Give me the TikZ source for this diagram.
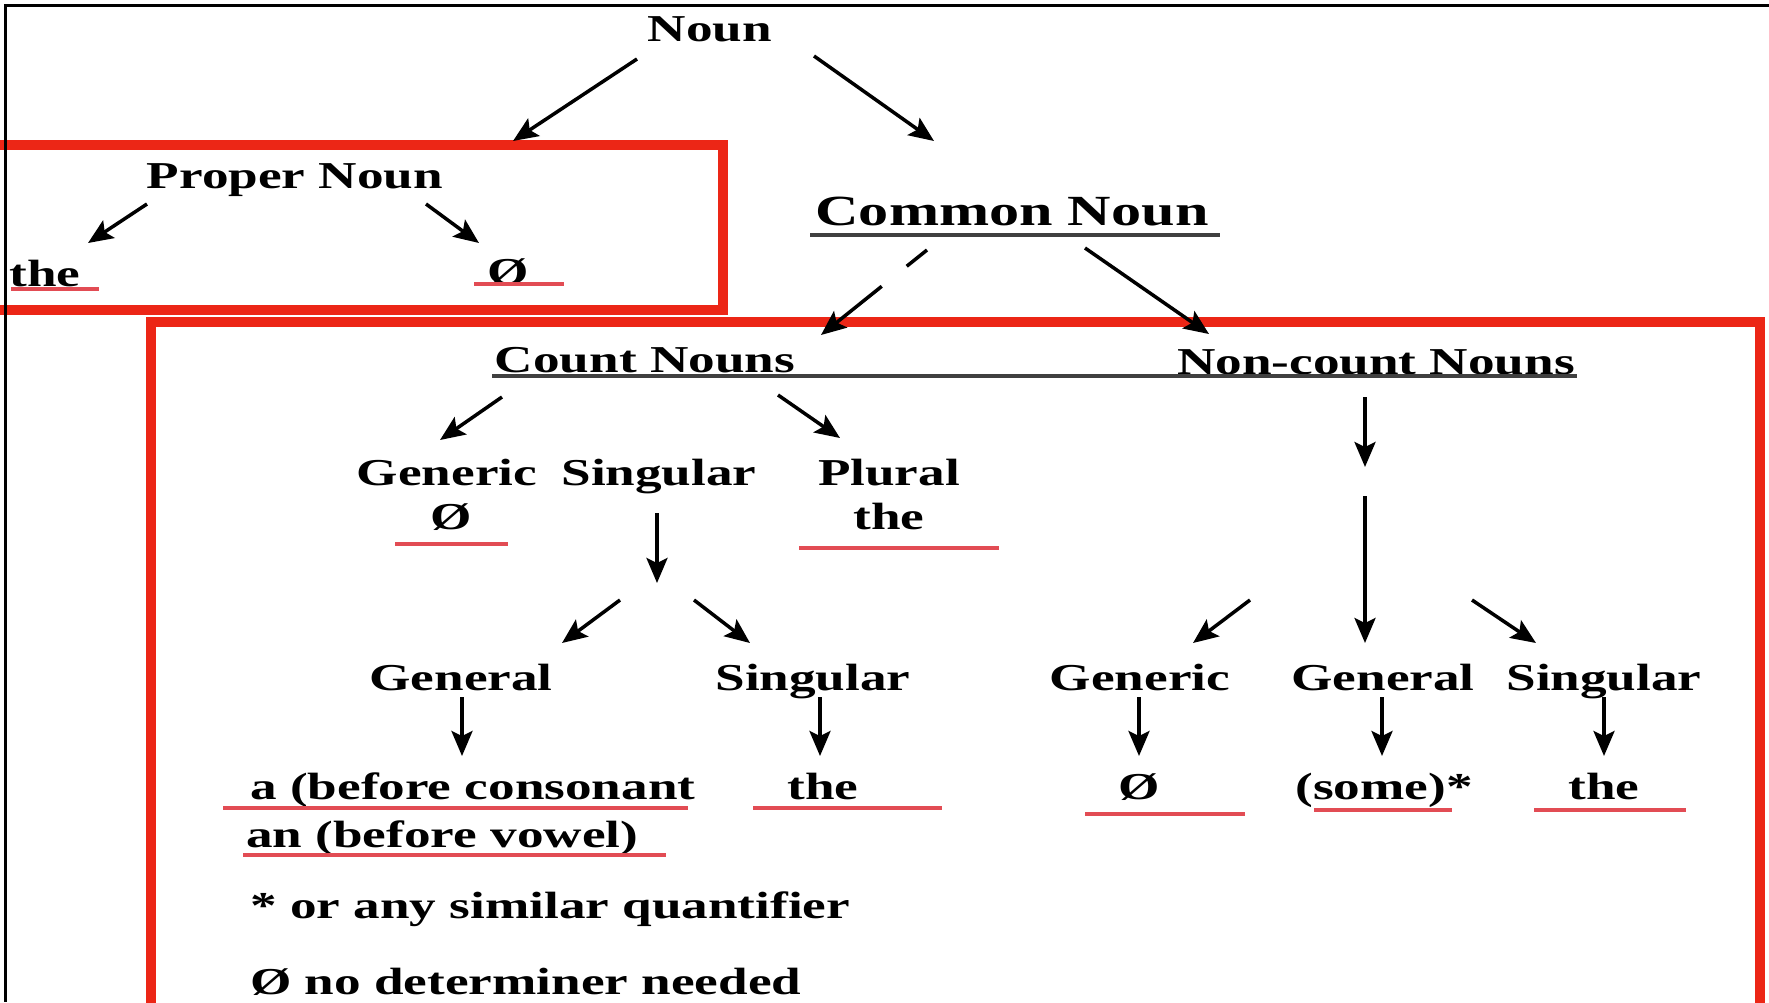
\documentclass[tikz,border=0pt]{standalone}
\usepackage{fontspec}
\setmainfont{Liberation Serif}[FakeStretch=1.4]
\usepackage{xcolor}
\usetikzlibrary{arrows.meta}
\definecolor{boxred}{RGB}{236,38,22}
\definecolor{ulred}{RGB}{226,76,84}

\begin{document}
\begin{tikzpicture}[x=1pt, y=-1pt,
		>={Stealth[length=25pt,width=21pt,inset=5pt]},
		word/.style={inner sep=0pt, text height=30pt, text depth=4pt, font=\fontsize{38}{46}\selectfont\bfseries},
		big/.style={word, font=\fontsize{43}{50}\selectfont\bfseries},
		arr/.style={->, line width=3.5pt},
		box/.style={draw=boxred, line width=10pt},
		redline/.style={draw=ulred, line width=3.5pt},
		blackline/.style={draw=black!75, line width=3.5pt}]
			\useasboundingbox (0,0) rectangle (1769,1002);
			\clip (0,0) rectangle (1769,1002);
			\fill[white] (0,0) rectangle (1769,1002);

			\draw[box] (-10,145) -- (723,145) -- (723,310) -- (-10,310);
			\draw[box] (151,1030) -- (151,322) -- (1760,322) -- (1760,1030);
			\draw[line width=3pt] (1769,5) -- (5,5) -- (5,1002);

			\node[word] (noun) at (710,28) {Noun};
			\node[word] (proper) at (295,175) {Proper Noun};
			\node[word] (pthe) at (45,273) {the};
			\node[word] (pzero) at (508,271) {Ø};
			\node[big] (common) at (1012,212) {Common Noun};
			\node[word] (count) at (645,359) {Count Nouns};
			\node[word] (noncount) at (1376,361) {Non-count Nouns};

			\node[word] (cgeneric) at (447,472) {Generic};
			\node[word] (czero) at (451,516) {Ø};
			\node[word] (csing) at (659,472) {Singular};
			\node[word] (cplural) at (889,472) {Plural};
			\node[word] (cpthe) at (889,516) {the};
			\node[word] (cgeneral) at (461,677) {General};
			\node[word] (csing2) at (813,677) {Singular};
			\node[word, anchor=west] (ca) at (250,786) {a (before consonant};
			\node[word, anchor=west] (can) at (246,834) {an (before vowel)};
			\node[word] (cthe) at (823,786) {the};
			\node[word, anchor=west] (note1) at (250,905) {* or any similar quantifier};
			\node[word, anchor=west] (note2) at (250,981) {Ø no determiner needed};

			\node[word] (ngeneric) at (1140,677) {Generic};
			\node[word] (ngeneral) at (1383,677) {General};
			\node[word] (nsing) at (1604,677) {Singular};
			\node[word] (nzero) at (1139,786) {Ø};
			\node[word] (nsome) at (1384,786) {(some)*};
			\node[word] (nthe) at (1604,786) {the};

			\coordinate (csplit) at (657,600);
			\coordinate (nmid) at (1365,481);
			\coordinate (nsplit) at (1361,600);

			\draw[blackline] (810,235) -- (1220,235);
			\draw[blackline] (492,376) -- (1577,376);

			\draw[redline] (11,289) -- (99,289);
			\draw[redline] (474,284) -- (564,284);
			\draw[redline] (395,544) -- (508,544);
			\draw[redline] (799,548) -- (999,548);
			\draw[redline] (223,808) -- (688,808);
			\draw[redline] (243,855) -- (666,855);
			\draw[redline] (753,808) -- (942,808);
			\draw[redline] (1085,814) -- (1245,814);
			\draw[redline] (1314,810) -- (1452,810);
			\draw[redline] (1534,810) -- (1686,810);

			\draw[arr] ([shift={(-73,31)}]noun.center) -- ([shift={(218,-34)}]proper.center);
			\draw[arr] ([shift={(104,28)}]noun.center) -- ([shift={(-78,-71)}]common.center);
			\draw[arr] ([shift={(-148,29)}]proper.center) -- ([shift={(43,-30)}]pthe.center);
			\draw[arr] ([shift={(131,29)}]proper.center) -- ([shift={(-29,-28)}]pzero.center);
			\draw[arr, dash pattern=on 26pt off 32pt on 200pt off 0pt] ([shift={(-85,38)}]common.center) -- ([shift={(176,-24)}]count.center);
			\draw[arr] ([shift={(73,36)}]common.center) -- ([shift={(-167,-27)}]noncount.center);

			\draw[arr] ([shift={(-143,38)}]count.center) -- ([shift={(-7,-32)}]cgeneric.center);
			\draw[arr] ([shift={(133,36)}]count.center) -- ([shift={(-49,-34)}]cplural.center);
			\draw[arr] ([shift={(-2,41)}]csing.center) -- ([shift={(0,-17)}]csplit);
			\draw[arr] ([shift={(-37,0)}]csplit) -- ([shift={(101,-34)}]cgeneral.center);
			\draw[arr] ([shift={(37,0)}]csplit) -- ([shift={(-63,-34)}]csing2.center);
			\draw[arr] ([shift={(1,20)}]cgeneral.center) -- ([shift={(212,-30)}]ca.west);
			\draw[arr] ([shift={(7,20)}]csing2.center) -- ([shift={(-3,-30)}]cthe.center);

			\draw[arr] ([shift={(-11,36)}]noncount.center) -- ([shift={(0,-14)}]nmid);
			\draw[arr] ([shift={(0,15)}]nmid) -- ([shift={(-18,-34)}]ngeneral.center);
			\draw[arr] ([shift={(-111,0)}]nsplit) -- ([shift={(53,-34)}]ngeneric.center);
			\draw[arr] ([shift={(111,0)}]nsplit) -- ([shift={(-68,-34)}]nsing.center);
			\draw[arr] ([shift={(-1,20)}]ngeneric.center) -- ([shift={(0,-30)}]nzero.center);
			\draw[arr] ([shift={(-1,20)}]ngeneral.center) -- ([shift={(-2,-30)}]nsome.center);
			\draw[arr] ([shift={(0,20)}]nsing.center) -- ([shift={(0,-30)}]nthe.center);
		\end{tikzpicture}
\end{document}
